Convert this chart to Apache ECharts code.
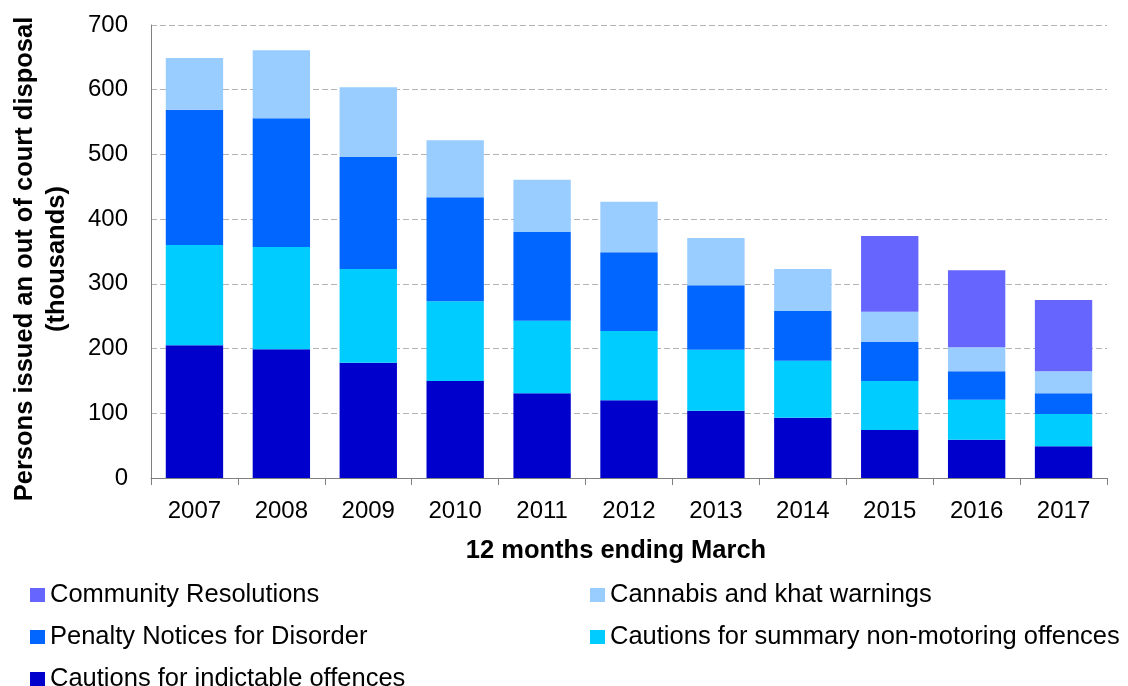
<!DOCTYPE html>
<html>
<head>
<meta charset="utf-8">
<script src="https://cdn.jsdelivr.net/npm/echarts@6/dist/echarts.min.js"></script>
<style>
  html, body { margin: 0; padding: 0; background: #fff; }
  #chart { width: 1128px; height: 686px; }
</style>
</head>
<body>
<div id="chart"></div>
<script>
// 12 months ending March
var years = ["2007", "2008", "2009", "2010", "2011", "2012", "2013", "2014", "2015", "2016", "2017"];
// thousands of persons
var indictable = [205, 199, 178, 150, 131, 120, 104, 93, 74, 59, 49];
var summary = [155, 158, 145, 123, 112, 107, 94, 88, 76, 62, 50];
var pnd = [209, 199, 173, 161, 137, 122, 100, 77, 60, 44, 32];
var cannabis = [80, 105, 108, 88, 81, 78, 73, 65, 47, 37, 34];
var community = ["-", "-", "-", "-", "-", "-", "-", "-", 117, 119, 110];
var yTicks = [0, 100, 200, 300, 400, 500, 600, 700];

var font = "Liberation Sans, Arial, sans-serif";
var myChart = echarts.init(document.getElementById("chart"));

function bar(name, data, color) {
  return {
    name: name,
    type: "bar",
    stack: "total",
    barWidth: "66%",
    data: data,
    itemStyle: { color: color },
    emphasis: { disabled: true }
  };
}

// one legend per entry so the two-column layout sits exactly
function legendItem(name, left, top) {
  return {
    left: left,
    top: top,
    padding: 0,
    icon: "rect",
    itemWidth: 15,
    itemHeight: 14,
    selectedMode: false,
    textStyle: { fontFamily: font, fontSize: 25.5, color: "#000" },
    data: [name]
  };
}

var option = {
  backgroundColor: "#fff",
  animation: false,
  grid: { left: 151, right: 21, top: 25, bottom: 208, outerBoundsMode: "none", containLabel: false },
  legend: [
    legendItem("Community Resolutions", 30, 582),
    legendItem("Cannabis and khat warnings", 590, 582),
    legendItem("Penalty Notices for Disorder", 30, 624),
    legendItem("Cautions for summary non-motoring offences", 590, 624),
    legendItem("Cautions for indictable offences", 30, 666)
  ],
  // y axis title drawn as rotated text (axis name gets truncated)
  graphic: [{
    type: "text",
    x: 41,
    y: 259,
    rotation: Math.PI / 2,
    style: {
      text: "Persons issued an out of court disposal\n(thousands)",
      fontFamily: font,
      fontSize: 25.5,
      fontWeight: "bold",
      fill: "#000",
      align: "center",
      verticalAlign: "middle",
      lineHeight: 32
    }
  }],
  xAxis: {
    type: "category",
    data: years,
    name: "12 months ending March",
    nameLocation: "middle",
    nameGap: 60,
    nameTextStyle: { fontFamily: font, fontSize: 25.5, fontWeight: "bold", color: "#000", padding: [0, 26, 0, 0] },
    axisLine: { lineStyle: { color: "#808080", width: 1 } },
    axisTick: { show: true, length: 7, lineStyle: { color: "#808080" } },
    axisLabel: { fontFamily: font, fontSize: 24, color: "#000", margin: 21 }
  },
  yAxis: {
    type: "value",
    min: yTicks[0],
    max: yTicks[yTicks.length - 1],
    interval: 100,
    axisLine: { show: true, lineStyle: { color: "#808080", width: 1 } },
    axisTick: { show: false },
    axisLabel: { fontFamily: font, fontSize: 24, color: "#000", margin: 23 },
    splitLine: { lineStyle: { color: "#b3b3b3", type: [6, 3], width: 1 } }
  },
  series: [
    bar("Cautions for indictable offences", indictable, "#0000CC"),
    bar("Cautions for summary non-motoring offences", summary, "#00CCFF"),
    bar("Penalty Notices for Disorder", pnd, "#0066FF"),
    bar("Cannabis and khat warnings", cannabis, "#99CCFF"),
    bar("Community Resolutions", community, "#6666FF")
  ]
};

myChart.setOption(option);
</script>
</body>
</html>
